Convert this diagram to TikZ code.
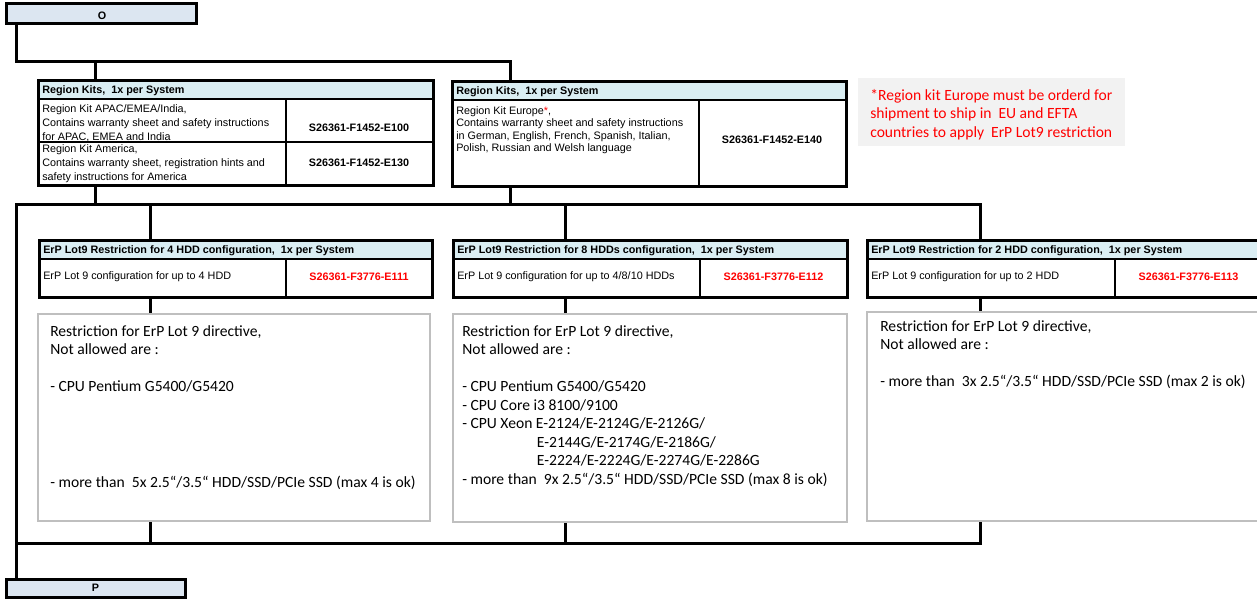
\documentclass[tikz,border=0pt]{standalone}
\usepackage{fontspec}
\setmainfont{Liberation Sans}
\newfontfamily\calibrifont{Carlito}
\usepackage{tikz}
\usetikzlibrary{fit, backgrounds}
\definecolor{hdrblue}{HTML}{DAEEF3}
\definecolor{boxblue}{HTML}{DCE6F1}
\definecolor{notegray}{HTML}{F2F2F2}
\definecolor{framegray}{HTML}{BFBFBF}
\definecolor{partred}{HTML}{FF0000}

\tikzset{
  conn/.style={line width=2.25pt, line cap=rect},
  endbox/.style={draw, line width=2.25pt, fill=boxblue, inner sep=0pt},
  endtext/.style={inner sep=0pt, font=\bfseries\fontsize{8.1}{10}\selectfont},
  kitframe/.style={draw, line width=2.25pt, inner sep=0pt, outer sep=0pt},
  hdrcell/.style={draw, line width=1.5pt, fill=hdrblue, inner sep=0pt, outer sep=0pt},
  cell/.style={draw, line width=1.5pt, fill=white, inner sep=0pt, outer sep=0pt},
  hdrtext/.style={anchor=west, inner sep=0pt, font=\bfseries\fontsize{8.1}{10}\selectfont},
  celltext/.style={anchor=north west, inner sep=0pt, align=left, font=\fontsize{8.1}{10.5}\selectfont},
  partno/.style={inner sep=0pt, font=\bfseries\fontsize{8.1}{10}\selectfont},
  restrict/.style={draw=framegray, line width=1.3pt, fill=white, inner sep=0pt, outer sep=0pt},
  restricttext/.style={anchor=north west, inner sep=0pt, align=left, font=\calibrifont\fontsize{11.7}{13.9}\selectfont},
}

\begin{document}
\begin{tikzpicture}[x=0.75pt, y=-0.75pt]
  \useasboundingbox (0,0) rectangle (1257,599);
  \clip (0,0) rectangle (1257,599);

  % Start and end boxes
  \node[endbox, fit={(6,4)(196,24)}] (O) {};
  \node[endtext] (Otext) at (102,15.5) {O};
  \node[endbox, fit={(6,579)(185,597)}] (P) {};
  \node[endtext] (Ptext) at (95.5,588) {P};

  % Region kits (left)
  \node[hdrcell, fit={(38,81)(433,99)}] (kitsAhead) {};
  \node[hdrtext] (kitsAtitle) at (42,90.5) {Region Kits,\ \ 1x per System};
  \node[cell, fit={(38,99)(286,142)}] (apacDesc) {};
  \node[cell, fit={(286,99)(433,142)}] (apacCode) {};
  \node[celltext] (apacText) at (42,104) {Region Kit APAC/EMEA/India,\\Contains warranty sheet and safety instructions\\for APAC, EMEA and India};
  \node[partno] (apacNo) at (359,128) {S26361-F1452-E100};
  \node[cell, fit={(38,142)(286,186)}] (amerDesc) {};
  \node[cell, fit={(286,142)(433,186)}] (amerCode) {};
  \node[celltext] (amerText) at (42,144) {Region Kit America,\\Contains warranty sheet, registration hints and\\safety instructions for America};
  \node[partno] (amerNo) at (359,163) {S26361-F1452-E130};
  \node[kitframe, fit={(38,81)(433,186)}] (kitsA) {};

  % Region kits (right)
  \node[hdrcell, fit={(452,82)(846,100)}] (kitsBhead) {};
  \node[hdrtext] (kitsBtitle) at (456,91.5) {Region Kits,\ \ 1x per System};
  \node[cell, fit={(452,100)(699,187)}] (euDesc) {};
  \node[cell, fit={(699,100)(846,187)}] (euCode) {};
  \node[celltext, font=\fontsize{8.1}{9.4}\selectfont] (euText) at (456,106) {Region Kit Europe{\color{partred}*},\\Contains warranty sheet and safety instructions\\in German, English, French, Spanish, Italian,\\Polish, Russian and Welsh language};
  \node[partno] (euNo) at (772,140) {S26361-F1452-E140};
  \node[kitframe, fit={(452,82)(846,187)}] (kitsB) {};

  % Europe note
  \node[fill=notegray, inner sep=0pt, fit={(858,78)(1125,146)}] (euNote) {};
  \node[restricttext, text=partred] (euNoteText) at (870,89) {*Region kit Europe must be orderd for\\shipment to ship in\ \ EU and EFTA\\countries to apply\ \ ErP Lot9 restriction};

  % ErP Lot9 tables
  \foreach \name/\xl/\xs/\xr/\title/\conf/\code in {
      erp4/39/286/432/{ErP Lot9 Restriction for 4 HDD configuration,\ \ 1x per System}/{ErP Lot 9 configuration for up to 4 HDD}/E111,
      erp8/453/700/847/{ErP Lot9 Restriction for 8 HDDs configuration,\ \ 1x per System}/{ErP Lot 9 configuration for up to 4/8/10 HDDs}/E112,
      erp2/867/1115/1262/{ErP Lot9 Restriction for 2 HDD configuration,\ \ 1x per System}/{ErP Lot 9 configuration for up to 2 HDD}/E113} {
    \node[hdrcell, fit={(\xl,241)(\xr,259)}] (\name head) {};
    \node[hdrtext] (\name title) at (\xl+4,251) {\title};
    \node[cell, fit={(\xl,259)(\xs,297)}] (\name desc) {};
    \node[cell, fit={(\xs,259)(\xr,297)}] (\name code) {};
    \node[hdrtext, font=\fontsize{8.1}{10}\selectfont] (\name text) at (\xl+4,277) {\conf};
    \node[partno, text=partred] (\name no) at ({(\xs+\xr)/2},277) {S26361-F3776-\code};
    \node[kitframe, fit={(\xl,241)(\xr,297)}] (\name) {};
  }

  % Restriction notes
  \node[restrict, fit={(38,314)(430,521)}] (restA) {};
  \node[restricttext] (restAtext) at (50,325) {Restriction for ErP Lot 9 directive,\\Not allowed are :\\[13.9pt]
    - CPU Pentium G5400/G5420\\[58pt]
    - more than\ \ 5x 2.5“/3.5“ HDD/SSD/PCIe SSD (max 4 is ok)};
  \node[restrict, fit={(453,314)(847,522)}] (restB) {};
  \node[restricttext] (restBtext) at (462,325) {Restriction for ErP Lot 9 directive,\\Not allowed are :\\[13.9pt]
    - CPU Pentium G5400/G5420\\
    - CPU Core i3 8100/9100\\
    - CPU Xeon E-2124/E-2124G/E-2126G/\\
    \hspace*{56pt}E-2144G/E-2174G/E-2186G/\\
    \hspace*{56pt}E-2224/E-2224G/E-2274G/E-2286G\\
    - more than\ \ 9x 2.5“/3.5“ HDD/SSD/PCIe SSD (max 8 is ok)};
  \node[restrict, fit={(867,312)(1262,521)}] (restC) {};
  \node[restricttext] (restCtext) at (880,320) {Restriction for ErP Lot 9 directive,\\Not allowed are :\\[13.9pt]
    - more than\ \ 3x 2.5“/3.5“ HDD/SSD/PCIe SSD (max 2 is ok)};

  % Connectors
  \begin{scope}[on background layer]
    \coordinate (busL) at (16,62);
    \coordinate (busR) at (510,62);
    \coordinate (tapA) at (95,62);
    \coordinate (midL) at (16,205);
    \coordinate (midR) at (980,205);
    \coordinate (botL) at (16,543);
    \coordinate (botR) at (980,543);
    \draw[conn] (O.south -| busL) -- (busL) -- (busR) -- (busR |- kitsB.north);
    \draw[conn] (tapA) -- (tapA |- kitsA.north);
    \draw[conn] (kitsA.south -| tapA) -- (tapA |- midL);
    \draw[conn] (kitsB.south -| busR) -- (busR |- midL);
    \draw[conn] (midL) -- (midR);
    \draw[conn] (midL) -- (botL |- P.north);
    \draw[conn] (botL) -- (botR);
    \foreach \x/\erp/\rest in {150/erp4/restA, 565/erp8/restB, 980/erp2/restC} {
      \coordinate (top\erp) at (\x,205);
      \draw[conn] (top\erp) -- (top\erp |- \erp.north);
      \draw[conn] (\erp.south -| top\erp) -- (top\erp |- \rest.north);
      \draw[conn] (\rest.south -| top\erp) -- (top\erp |- botL);
    }
  \end{scope}
\end{tikzpicture}
\end{document}
